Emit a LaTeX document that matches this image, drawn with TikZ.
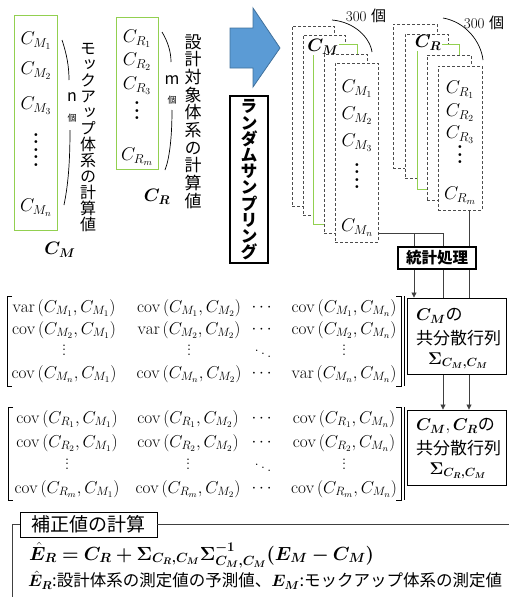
\RequirePackage{fix-cm}
\documentclass[tikz,border=0pt]{standalone}
\usepackage{amsmath}
\usepackage{bm}
\usepackage{fontspec}
\newfontfamily\jp{Noto Sans CJK JP}
\newfontfamily\jpv[RawFeature=+vert]{Noto Sans CJK JP}
\usetikzlibrary{arrows.meta}
\definecolor{grn}{HTML}{92D050}
\definecolor{arrfill}{HTML}{5B9BD5}
\definecolor{arrline}{HTML}{41719C}
\definecolor{lin}{HTML}{404040}
\tikzset{
  dbox/.style={draw=black!70, dashed, dash pattern=on 3pt off 2pt, line width=0.9pt, fill=white, minimum width=43pt, inner sep=0pt},
  gbox/.style={draw=grn, line width=1pt, fill=white, inner sep=0pt},
  gframe/.style={draw=grn, line width=1pt, inner sep=0pt},
  ent/.style={inner sep=0pt, font=\fontsize{18.5}{18.5}\selectfont},
  blab/.style={inner sep=1pt, font=\fontsize{18}{18}\selectfont},
  vtxt/.style={inner sep=0pt, align=center},
  dots/.style={inner sep=0pt, align=center, font=\bfseries\fontsize{20}{7.5}\selectfont},
  mdots/.style={inner sep=0pt, align=center, font=\fontsize{18}{4.5}\selectfont},
  mcell/.style={inner sep=0pt, font=\fontsize{17.2}{17.2}\selectfont},
  conn/.style={draw=lin, line width=0.8pt},
  arr/.style={-{Triangle[length=5pt,width=5pt]}},
  brk/.style={draw=black, line width=0.8pt},
  cbox/.style={draw=black, line width=0.9pt, fill=white, minimum width=99pt, inner sep=0pt},
  jtxt/.style={inner sep=0pt, font=\jp\fontsize{17}{17}\selectfont},
}
\begin{document}
\begin{tikzpicture}[x=1pt,y=-1pt]
\useasboundingbox (0,0) rectangle (509,597);

% ---------- left green boxes ----------
\node[gframe, minimum width=43pt, minimum height=215pt] (gM) at (35.5,122.5) {};
\node[ent] (gM1) at (36,41) {$C_{M_1}$};
\node[ent] (gM2) at (36,71) {$C_{M_2}$};
\node[ent] (gM3) at (36,106) {$C_{M_3}$};
\node[dots] (gMd) at (36,150) {.\\.\\.\\.\\.};
\node[ent] (gMn) at (36,208) {$C_{M_n}$};
\node[blab] (lM) at (60,250) {$\bm{C_M}$};

\draw[line width=0.7pt] (62,40) .. controls (67,55) and (69,67) .. (69,80);
\draw[line width=0.7pt] (70,130) .. controls (70,170) and (67,190) .. (64,205);
\node[inner sep=0pt, font=\jp\fontsize{16}{16}\selectfont] (nlab) at (72,97) {n};
\node[inner sep=0pt, font=\jp\fontsize{9}{9}\selectfont] (nko) at (72,118) {個};
\node[vtxt, font=\jpv\fontsize{16}{16}\selectfont] (vM) at (88,137.5) {モ\\ッ\\ク\\ア\\ッ\\プ\\体\\系\\の\\計\\算\\値};

\node[gframe, minimum width=42pt, minimum height=152pt] (gR) at (137,93) {};
\node[ent] (gR1) at (137,39) {$C_{R_1}$};
\node[ent] (gR2) at (137,62) {$C_{R_2}$};
\node[ent] (gR3) at (137,86) {$C_{R_3}$};
\node[dots] (gRd) at (137,111) {.\\.\\.};
\node[ent] (gRm) at (137,157) {$C_{R_m}$};
\node[blab] (lR) at (157,197) {$\bm{C_R}$};

\draw[line width=0.7pt] (162,32) .. controls (168,42) and (171,52) .. (171,62);
\draw[line width=0.7pt] (172,110) .. controls (172,140) and (169,160) .. (165,170);
\node[inner sep=0pt, font=\jp\fontsize{16}{16}\selectfont] (mlab) at (172,80) {m};
\node[inner sep=0pt, font=\jp\fontsize{9}{9}\selectfont] (mko) at (172,100) {個};
\node[vtxt, font=\jpv\fontsize{17}{17.7}\selectfont] (vR) at (193,121.5) {設\\計\\対\\象\\体\\系\\の\\計\\算\\値};

% ---------- blue arrow and random sampling ----------
\fill[arrfill, draw=arrline, line width=0.8pt] (230,28) -- (253,28) -- (253,8) -- (280,48) -- (253,87) -- (253,68) -- (230,68) -- cycle;
\node[draw=black, line width=2.2pt, minimum width=38pt, minimum height=167pt, inner sep=0pt] (rs) at (249,179.5) {};
\node[vtxt, font=\jpv\bfseries\fontsize{17}{16.2}\selectfont] (rst) at (249,180) {ラ\\ン\\ダ\\ム\\サ\\ン\\プ\\リ\\ン\\グ};

% ---------- C_M stack ----------
\node[inner sep=0pt, font=\fontsize{15}{15}\selectfont] (hM) at (366,16) {300 {\jp 個}};
\draw[line width=0.7pt] (332,20) .. controls (355,22) and (370,38) .. (372,52);
\node[dbox, minimum height=180pt, minimum width=42pt] (cmA) at (313,116) {};
\node[dbox, minimum height=180pt, minimum width=42pt] (cmB) at (324,125) {};
\node[gbox, minimum height=180pt, minimum width=44pt] (cmC) at (335,134) {};
\node[blab, fill=white, inner sep=0.5pt] (cmL) at (323,47) {$\bm{C_M}$};
\node[dbox, minimum height=179pt] (cmD) at (345.5,143.5) {};
\node[dbox, minimum height=179pt] (cmE) at (356.5,152.5) {};
\node[ent] (cm1) at (357,89) {$C_{M_1}$};
\node[ent] (cm2) at (357,116) {$C_{M_2}$};
\node[ent] (cm3) at (357,143) {$C_{M_3}$};
\node[dots] (cmd) at (357,176) {.\\.\\.\\.};
\node[ent] (cmn) at (357,228) {$C_{M_n}$};

% ---------- C_R stack ----------
\node[inner sep=0pt, font=\fontsize{15}{15}\selectfont] (hR) at (484,23) {300 {\jp 個}};
\draw[line width=0.7pt] (443,18) .. controls (466,22) and (481,42) .. (483,60);
\node[dbox, minimum height=144pt, minimum width=44pt] (crA) at (415,96) {};
\node[dbox, minimum height=144pt, minimum width=43pt] (crB) at (426.5,106) {};
\node[gbox, minimum height=145pt, minimum width=42pt] (crC) at (438,116.5) {};
\node[blab, fill=white, inner sep=0.5pt] (crL) at (428,43) {$\bm{C_R}$};
\node[dbox, minimum height=145pt, minimum width=44pt] (crD) at (449,127.5) {};
\node[dbox, minimum height=144pt, minimum width=44pt] (crE) at (460,138) {};
\node[ent] (cr1) at (460,90) {$C_{R_1}$};
\node[ent] (cr2) at (460,113) {$C_{R_2}$};
\node[ent] (cr3) at (460,135) {$C_{R_3}$};
\node[dots] (crd) at (460,155) {.\\.\\.};
\node[ent] (crm) at (460,196) {$C_{R_m}$};

% ---------- statistics ----------
\coordinate (jA) at (414,233);
\coordinate (jB) at (443,233);
\coordinate (xC) at (469,0);
\node[draw=black, line width=2pt, fill=white, minimum width=78pt, minimum height=22pt, inner sep=0pt, font=\jp\bfseries\fontsize{15.5}{15.5}\selectfont] (stat) at (437,258) {統計処理};
\draw[conn] (cmE.east |- jA) -- (jB);
\draw[conn] (jA) -- (jA |- stat.north);
\draw[conn] (jB) -- (jB |- stat.north);
\draw[conn] (crE.south -| xC) -- (stat.north -| xC);

% ---------- covariance boxes ----------
\node[cbox, minimum height=75pt] (covMR) at (456.5,447.5) {};
\draw[conn, arr] (stat.south -| jB) -- (covMR.north -| jB);
\draw[conn, arr] (stat.south -| xC) -- (covMR.north -| xC);
\node[cbox, minimum height=76pt] (covM) at (456.5,336) {};
\draw[conn, arr] (stat.south -| jA) -- (covM.north -| jA);

\node[jtxt, anchor=west] (cM1) at (416,316) {$\bm{C_M}$の};
\node[jtxt, anchor=west] (cM2) at (416,338) {共分散行列};
\node[jtxt] (cM3) at (458,361) {$\bm{\Sigma_{C_M,C_M}}$};

\node[jtxt, anchor=west] (cR1) at (416,426) {$\bm{C_M},\bm{C_R}$の};
\node[jtxt, anchor=west] (cR2) at (416,448) {共分散行列};
\node[jtxt] (cR3) at (458,471) {$\bm{\Sigma_{C_R,C_M}}$};

% ---------- matrix 1 ----------
\draw[brk] (12,296) -- (7,296) -- (7,386) -- (12,386);
\draw[brk] (396,296) -- (401,296) -- (401,386) -- (396,386);
\draw[brk] (404,296) -- (404,386);
\node[mcell] (a11) at (64,308) {$\mathrm{var}\left(C_{M_1},C_{M_1}\right)$};
\node[mcell] (a12) at (189,308) {$\mathrm{cov}\left(C_{M_1},C_{M_2}\right)$};
\node[mcell] (a13) at (263,308) {$\cdots$};
\node[mcell] (a14) at (344,308) {$\mathrm{cov}\left(C_{M_1},C_{M_n}\right)$};
\node[mcell] (a21) at (64,330) {$\mathrm{cov}\left(C_{M_2},C_{M_1}\right)$};
\node[mcell] (a22) at (189,330) {$\mathrm{var}\left(C_{M_2},C_{M_2}\right)$};
\node[mcell] (a23) at (263,330) {$\cdots$};
\node[mcell] (a24) at (344,330) {$\mathrm{cov}\left(C_{M_2},C_{M_n}\right)$};
\node[mdots] (a31) at (64,350) {.\\.\\.};
\node[mdots] (a32) at (189,350) {.\\.\\.};
\node[mcell] (a33) at (263,351) {$\ddots$};
\node[mdots] (a34) at (344,350) {.\\.\\.};
\node[mcell] (a41) at (64,374) {$\mathrm{cov}\left(C_{M_n},C_{M_1}\right)$};
\node[mcell] (a42) at (189,374) {$\mathrm{cov}\left(C_{M_n},C_{M_2}\right)$};
\node[mcell] (a43) at (263,374) {$\cdots$};
\node[mcell] (a44) at (344,374) {$\mathrm{var}\left(C_{M_n},C_{M_n}\right)$};

% ---------- matrix 2 ----------
\draw[brk] (13,407) -- (8,407) -- (8,500) -- (13,500);
\draw[brk] (396,407) -- (401,407) -- (401,500) -- (396,500);
\draw[brk] (404,407) -- (404,500);
\node[mcell] (b11) at (67,419) {$\mathrm{cov}\left(C_{R_1},C_{M_1}\right)$};
\node[mcell] (b12) at (188,419) {$\mathrm{cov}\left(C_{R_1},C_{M_2}\right)$};
\node[mcell] (b13) at (263,419) {$\cdots$};
\node[mcell] (b14) at (344,419) {$\mathrm{cov}\left(C_{R_1},C_{M_n}\right)$};
\node[mcell] (b21) at (67,443) {$\mathrm{cov}\left(C_{R_2},C_{M_1}\right)$};
\node[mcell] (b22) at (188,443) {$\mathrm{cov}\left(C_{R_2},C_{M_2}\right)$};
\node[mcell] (b23) at (263,443) {$\cdots$};
\node[mcell] (b24) at (344,443) {$\mathrm{cov}\left(C_{R_2},C_{M_n}\right)$};
\node[mdots] (b31) at (67,464) {.\\.\\.};
\node[mdots] (b32) at (188,464) {.\\.\\.};
\node[mcell] (b33) at (263,465) {$\ddots$};
\node[mdots] (b34) at (344,464) {.\\.\\.};
\node[mcell] (b41) at (67,489) {$\mathrm{cov}\left(C_{R_m},C_{M_1}\right)$};
\node[mcell] (b42) at (188,489) {$\mathrm{cov}\left(C_{R_m},C_{M_2}\right)$};
\node[mcell] (b43) at (263,489) {$\cdots$};
\node[mcell] (b44) at (344,489) {$\mathrm{cov}\left(C_{R_m},C_{M_n}\right)$};

% ---------- correction ----------
\node[draw=black, line width=0.8pt, minimum width=137pt, minimum height=25pt, inner sep=0pt, font=\jp\fontsize{19}{19}\selectfont] (hdr) at (88.5,524.5) {補正値の計算};
\draw[conn, draw=black!75] (12,597) |- (hdr.west);
\draw[conn, draw=black!75] (hdr.east) -- (509,524.5);
\node[inner sep=0pt, anchor=west, font=\fontsize{19}{19}\selectfont] (frm) at (29,555) {$\bm{\hat{E}_R = C_R + \Sigma_{C_R,C_M}\Sigma^{-1}_{C_M,C_M}(E_M - C_M)}$};
\node[inner sep=0pt, anchor=west, font=\jp\fontsize{16.5}{16.5}\selectfont] (note) at (28,580) {$\bm{\hat{E}_R}$:設計体系の測定値の予測値、$\bm{E_M}$:モックアップ体系の測定値};
\end{tikzpicture}
\end{document}
